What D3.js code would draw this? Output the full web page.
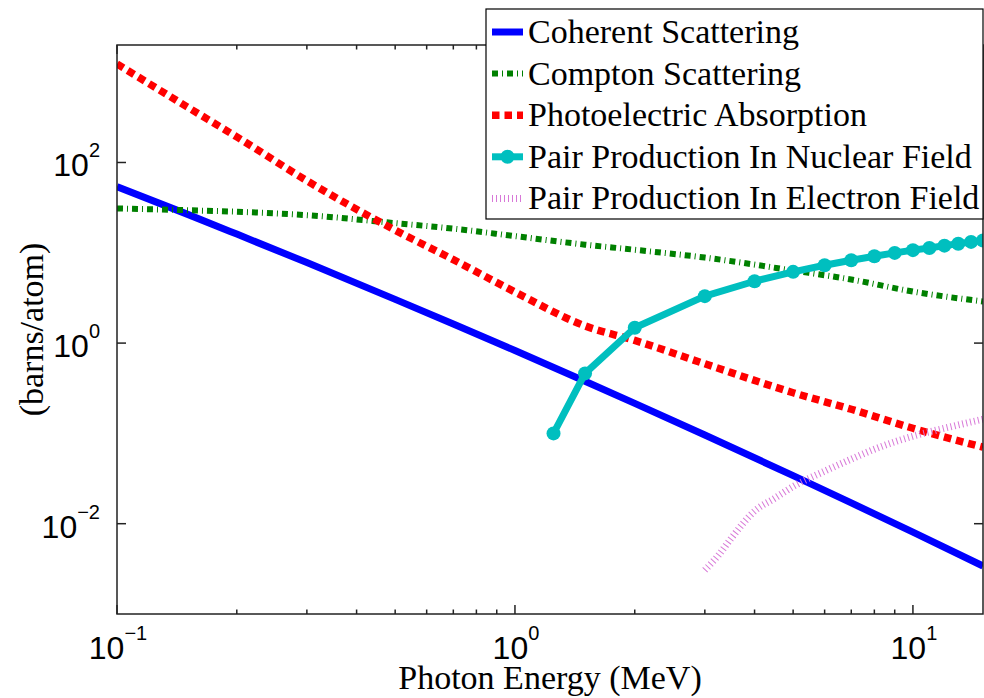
<!DOCTYPE html>
<html>
<head>
<meta charset="utf-8">
<script src="https://cdn.jsdelivr.net/npm/d3@7"></script>
<style>
  body { margin: 0; background: #fff; }
  svg { display: block; }
</style>
</head>
<body>
<svg width="984" height="698"></svg>
<script>
// energies (MeV) and cross sections (barns/atom)
const energy = [0.1, 0.15, 0.2, 0.3, 0.5, 0.7, 1, 1.5, 2, 3, 5, 7, 10, 15];
const coherent = [53.9, 26.8, 16.1, 7.79, 3.05, 1.63, 0.828, 0.378, 0.215, 0.0959, 0.0341, 0.0170, 0.00805, 0.00340];
const compton = [31.0, 29.6, 28.5, 26.1, 21.3, 18.5, 15.3, 12.3, 10.8, 8.85, 6.36, 5.06, 3.72, 2.89];
const photo = [1233, 413, 192, 62.8, 17.8, 8.4, 3.68, 1.55, 1.07, 0.59, 0.282, 0.185, 0.114, 0.0703];

const pairNucE = [1.25, 1.5, 2, 3, 4, 5, 6, 7, 8, 9, 10, 11, 12, 13, 14, 15];
const pairNuc = [0.100, 0.462, 1.48, 3.31, 4.84, 6.15, 7.28, 8.26, 9.15, 9.97, 10.7, 11.3, 12.0, 12.6, 13.2, 13.7];

const pairElE = [3, 3.25, 3.5, 4, 4.5, 5, 6, 7, 8, 10, 12, 15];
const pairEl = [0.00306, 0.00451, 0.00695, 0.0138, 0.0192, 0.0258, 0.0382, 0.0519, 0.0668, 0.0931, 0.114, 0.1435];

const legendNames = ["Coherent Scattering", "Compton Scattering", "Photoelectric Absorption",
                     "Pair Production In Nuclear Field", "Pair Production In Electron Field"];
const yTickVals = [1e-2, 1, 1e2];
const xTickVals = [0.1, 1, 10];

let width = 984, height = 698;
let m = {left: 117, right: 983, top: 45, bottom: 614};
const sans = "'Liberation Sans', Arial, Helvetica, sans-serif";
const serif = "'Liberation Serif', 'Times New Roman', serif";

let svg = d3.select("svg");

let x = d3.scaleLog().domain([0.1, 15]).range([m.left, m.right]);
let y = d3.scaleLog().domain([1e-3, 2000]).range([m.bottom, m.top]);

svg.append("clipPath").attr("id", "clip")
    .append("rect")
    .attr("x", m.left).attr("y", m.top)
    .attr("width", m.right - m.left).attr("height", m.bottom - m.top);

// series styles
let styles = [
    {color: "#0000ff", width: 7, dash: null},
    {color: "#008000", width: 6, dash: "6,4,1,4"},
    {color: "#ff0000", width: 7.5, dash: "7.5,5"},
    {color: "#00bfbf", width: 7, dash: null},
    {color: "#d878d8", width: 7, dash: "1,3"}
];

let series = [
    energy.map((e, i) => [e, coherent[i]]),
    energy.map((e, i) => [e, compton[i]]),
    energy.map((e, i) => [e, photo[i]]),
    pairNucE.map((e, i) => [e, pairNuc[i]]),
    pairElE.map((e, i) => [e, pairEl[i]])
];

let lineGen = d3.line().x(d => x(d[0])).y(d => y(d[1]));
let smoothGen = d3.line().x(d => x(d[0])).y(d => y(d[1])).curve(d3.curveMonotoneX);

let lines = svg.append("g").attr("clip-path", "url(#clip)");

series.forEach((s, i) => {
    lines.append("path")
        .attr("d", i == 3 ? lineGen(s) : smoothGen(s))
        .attr("fill", "none")
        .attr("stroke", styles[i].color)
        .attr("stroke-width", styles[i].width)
        .attr("stroke-dasharray", styles[i].dash)
        .attr("stroke-linejoin", "round");
});

lines.selectAll("circle.nuc")
    .data(series[3])
    .enter()
    .append("circle")
    .attr("class", "nuc")
    .attr("cx", d => x(d[0]))
    .attr("cy", d => y(d[1]))
    .attr("r", 7)
    .attr("fill", styles[3].color);

// axes box
let axes = svg.append("g").attr("stroke", "#222").attr("stroke-width", 1.5);
axes.append("rect")
    .attr("x", m.left).attr("y", m.top)
    .attr("width", m.right - m.left).attr("height", m.bottom - m.top)
    .attr("fill", "none");

// x ticks (major + minor), bottom and top
x.ticks().forEach(t => {
    let major = Math.abs(Math.log10(t) - Math.round(Math.log10(t))) < 1e-6;
    let len = major ? 9 : 4.5;
    let px = x(t);
    axes.append("line").attr("x1", px).attr("x2", px).attr("y1", m.bottom).attr("y2", m.bottom - len);
    axes.append("line").attr("x1", px).attr("x2", px).attr("y1", m.top).attr("y2", m.top + len);
});

yTickVals.forEach(t => {
    let py = y(t);
    axes.append("line").attr("x1", m.left).attr("x2", m.left + 9).attr("y1", py).attr("y2", py);
    axes.append("line").attr("x1", m.right).attr("x2", m.right - 9).attr("y1", py).attr("y2", py);
});

function expLabel(g, val, px, py, anchor) {
    let p = Math.round(Math.log10(val));
    let t = g.append("text")
        .attr("x", px).attr("y", py)
        .attr("text-anchor", anchor)
        .style("font-family", sans)
        .attr("font-size", 32)
        .attr("fill", "#000");
    t.append("tspan").text("10");
    t.append("tspan").attr("dy", -19).attr("font-size", 20).text(p < 0 ? "\u2212" + (-p) : p);
}

let labels = svg.append("g");
yTickVals.forEach(t => expLabel(labels, t, 100, y(t) + 14, "end"));
xTickVals.forEach(t => expLabel(labels, t, x(t) + 1, 659, "middle"));

svg.append("text")
    .attr("x", (m.left + m.right) / 2).attr("y", 689)
    .attr("text-anchor", "middle")
    .style("font-family", serif)
    .attr("font-size", 34)
    .text("Photon Energy (MeV)");

svg.append("text")
    .attr("transform", "translate(43," + ((m.top + m.bottom) / 2) + ") rotate(-90)")
    .attr("text-anchor", "middle")
    .style("font-family", serif)
    .attr("font-size", 34)
    .text("(barns/atom)");

// legend
let leg = svg.append("g");
leg.append("rect")
    .attr("x", 486).attr("y", 9)
    .attr("width", 497).attr("height", 210)
    .attr("fill", "#fff").attr("stroke", "#000").attr("stroke-width", 1.2);

legendNames.forEach((name, i) => {
    let cy = 32 + i * 41.6;
    leg.append("line")
        .attr("x1", 492).attr("x2", 523).attr("y1", cy).attr("y2", cy)
        .attr("stroke", styles[i].color)
        .attr("stroke-width", styles[i].width)
        .attr("stroke-dasharray", styles[i].dash);
    if (i == 3) {
        leg.append("circle").attr("cx", 507.5).attr("cy", cy).attr("r", 7).attr("fill", styles[i].color);
    }
    leg.append("text")
        .attr("x", 528).attr("y", cy + 11)
        .style("font-family", serif)
        .attr("font-size", 34)
        .text(name);
});
</script>
</body>
</html>
